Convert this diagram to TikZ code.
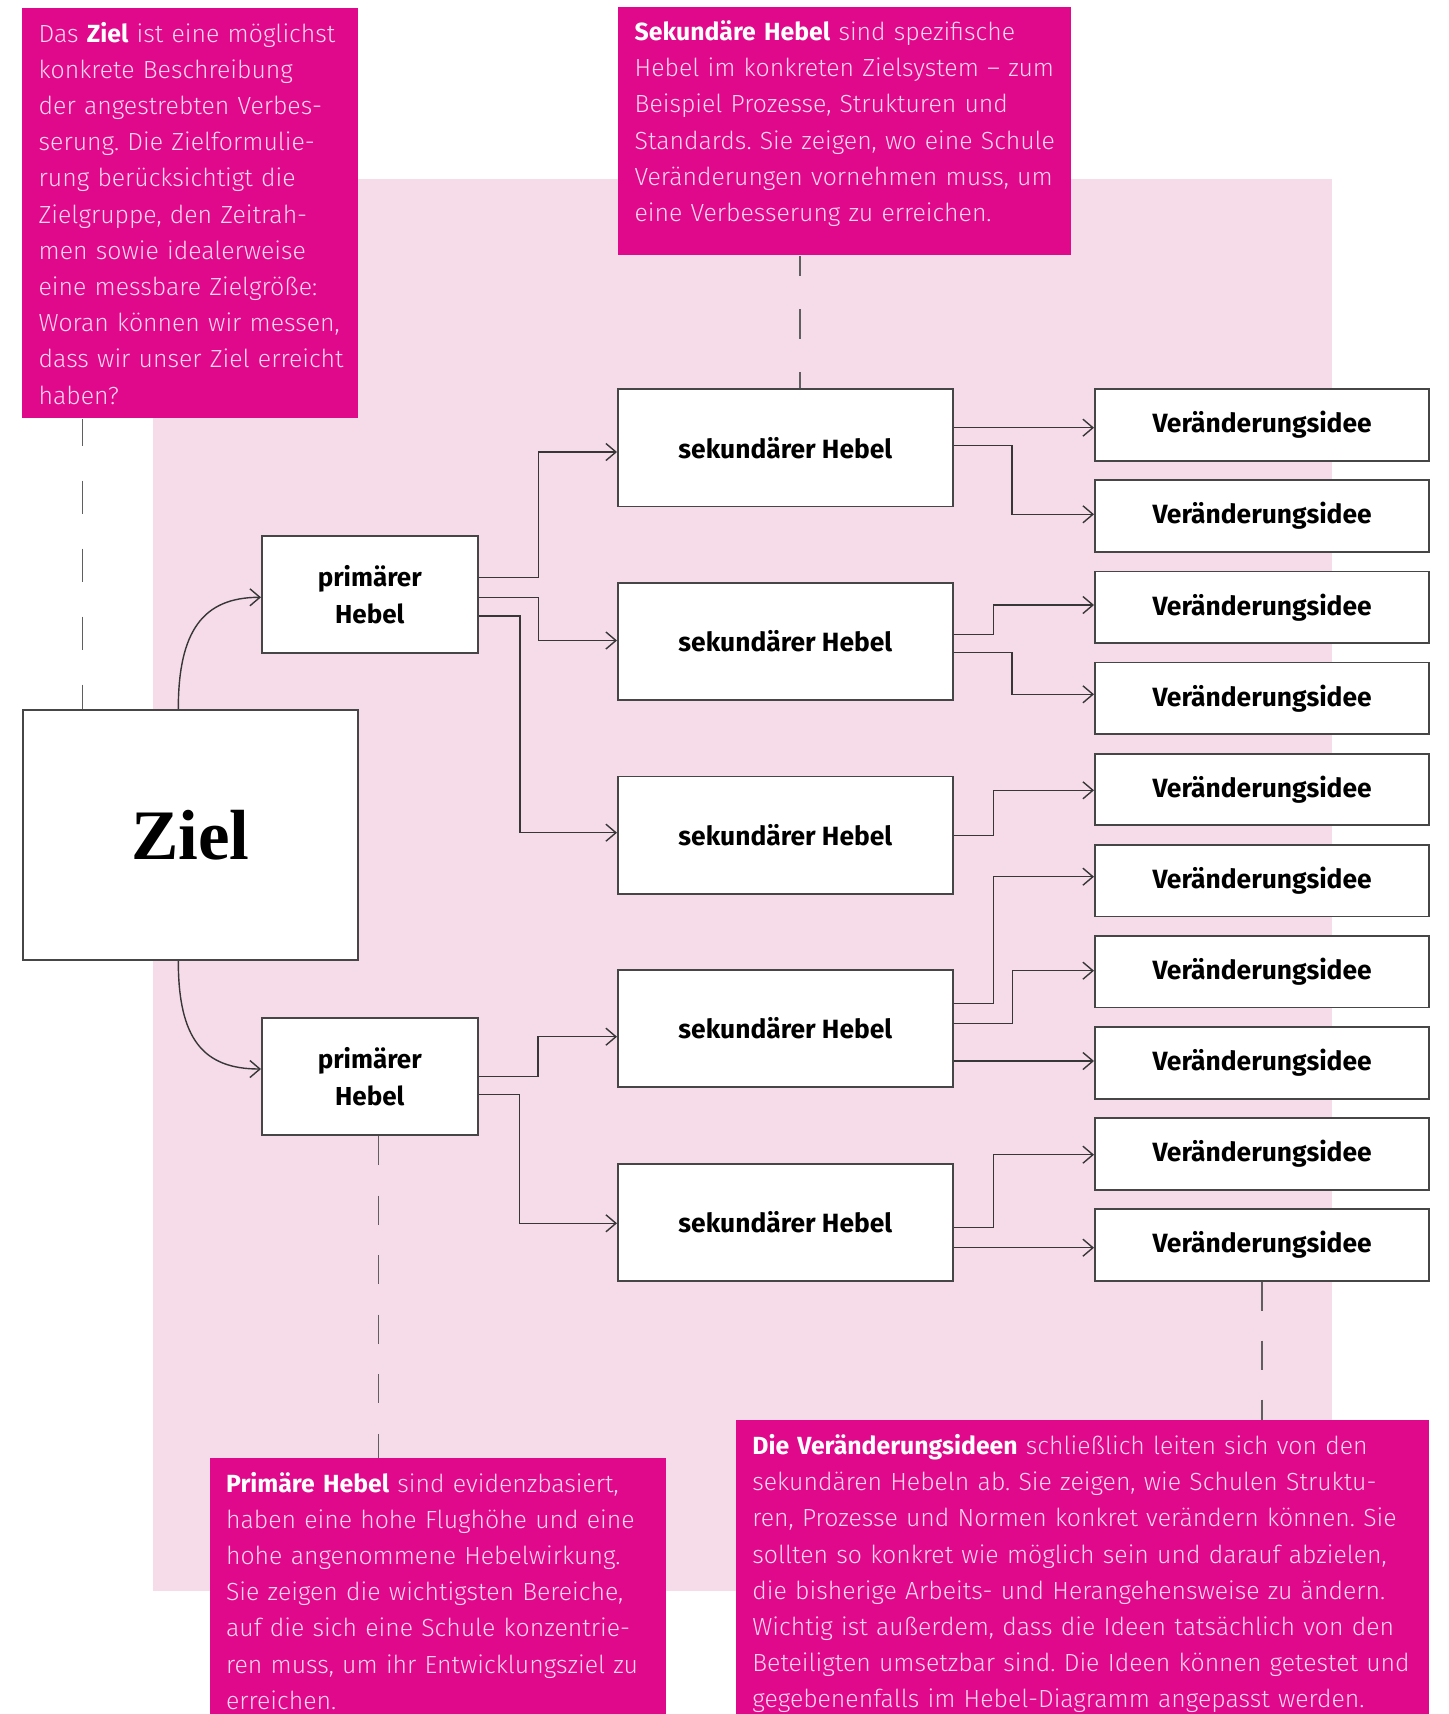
\documentclass[tikz,border=0pt]{standalone}
\usepackage{fontspec}
\usetikzlibrary{arrows.meta,calc}
\IfFontExistsTF{Fira Sans Light}{%
  \setmainfont{Fira Sans Light}[BoldFont={Fira Sans Bold}]}{%
  \setmainfont{Fira Sans}}
\newfontfamily\lblfont{Fira Sans}
\newfontfamily\zielfont{Liberation Serif}
\frenchspacing
\definecolor{mag}{RGB}{224,8,139}
\definecolor{bgpink}{RGB}{246,220,233}
\definecolor{txtpink}{RGB}{251,214,236}
\definecolor{linec}{RGB}{55,55,55}
\definecolor{boxc}{RGB}{70,70,70}
\definecolor{dashc}{RGB}{95,95,95}
\newcommand\hl[1]{\textcolor{white}{\bfseries #1}}
\tikzset{
  box/.style={draw=boxc, line width=0.9pt, fill=white, anchor=north west, inner sep=0pt, align=center},
  shbox/.style={box, minimum width=167.5pt, minimum height=58.65pt, font=\lblfont\bfseries\fontsize{13.2}{15}\selectfont},
  vibox/.style={box, minimum width=167.2pt, minimum height=35.85pt, font=\lblfont\bfseries\fontsize{13.2}{15}\selectfont},
  phbox/.style={box, minimum width=107.85pt, minimum height=58.7pt, font=\lblfont\bfseries\fontsize{13}{18.5}\selectfont},
  zielbox/.style={box, minimum width=167.5pt, minimum height=125pt, font=\zielfont\bfseries\fontsize{35.5}{40}\selectfont},
  infobox/.style={fill=mag, anchor=north west, inner sep=0pt},
  infotext/.style={anchor=north west, inner sep=0pt, text width=380pt, align=left, text=txtpink, font=\fontsize{12.4}{18.1}\selectfont},
  conn/.style={draw=linec, line width=0.7pt, -{Straight Barb[length=5pt,width=8.5pt]}},
  dashline/.style={draw=dashc, line width=0.75pt},
}
\begin{document}
\begin{tikzpicture}[x=0.5pt, y=-0.5pt]
\useasboundingbox (0,0) rectangle (1449,1714);
% pink background
\fill[bgpink] (153.3,179) rectangle (1332,1590.7);
% magenta info boxes
\node[infobox, minimum width=168pt, minimum height=205pt] (boxA) at (22,8) {};
\node[infobox, minimum width=226.5pt, minimum height=124pt] (boxB) at (618,7) {};
\node[infobox, minimum width=228.25pt, minimum height=150pt] (boxC) at (209.5,1458) {};
\node[infobox, minimum width=346.75pt, minimum height=160pt] (boxD) at (735.5,1420) {};
\node[infotext] (tA) at (38.3,16.4) {\strut Das \hl{Ziel} ist eine möglichst\\
konkrete Beschreibung\\
der angestrebten Verbes-\\
serung. Die Zielformulie-\\
rung berücksichtigt die\\
Zielgruppe, den Zeitrah-\\
men sowie idealerweise\\
eine messbare Zielgröße:\\
Woran können wir messen,\\
dass wir unser Ziel erreicht\\
haben?};
\node[infotext] (tB) at (634.3,14.7) {\strut\hl{Sekundäre Hebel} sind spezifische\\
Hebel im konkreten Zielsystem – zum\\
Beispiel Prozesse, Strukturen und\\
Standards. Sie zeigen, wo eine Schule\\
Veränderungen vornehmen muss, um\\
eine Verbesserung zu erreichen.};
\node[infotext] (tC) at (225.7,1466.4) {\strut\hl{Primäre Hebel} sind evidenzbasiert,\\
haben eine hohe Flughöhe und eine\\
hohe angenommene Hebelwirkung.\\
Sie zeigen die wichtigsten Bereiche,\\
auf die sich eine Schule konzentrie-\\
ren muss, um ihr Entwicklungsziel zu\\
erreichen.};
\node[infotext] (tD) at (752,1428.7) {\strut\hl{Die Veränderungsideen} schließlich leiten sich von den\\
sekundären Hebeln ab. Sie zeigen, wie Schulen Struktu-\\
ren, Prozesse und Normen konkret verändern können. Sie\\
sollten so konkret wie möglich sein und darauf abzielen,\\
die bisherige Arbeits- und Herangehensweise zu ändern.\\
Wichtig ist außerdem, dass die Ideen tatsächlich von den\\
Beteiligten umsetzbar sind. Die Ideen können getestet und\\
gegebenenfalls im Hebel-Diagramm angepasst werden.};
% diagram boxes
\node[zielbox] (ziel) at (22,709) {Ziel};
\node[phbox] (ph1) at (261,535) {primärer\\Hebel};
\node[phbox] (ph2) at (261,1016.7) {primärer\\Hebel};
\node[shbox] (sh1) at (617,388.3) {sekundärer Hebel};
\node[shbox] (sh2) at (617,581.9) {sekundärer Hebel};
\node[shbox] (sh3) at (617,775.5) {sekundärer Hebel};
\node[shbox] (sh4) at (617,969.1) {sekundärer Hebel};
\node[shbox] (sh5) at (617,1162.7) {sekundärer Hebel};
\node[vibox] (vi1) at (1094,388.3) {Veränderungsidee};
\node[vibox] (vi2) at (1094,479.4) {Veränderungsidee};
\node[vibox] (vi3) at (1094,570.5) {Veränderungsidee};
\node[vibox] (vi4) at (1094,661.6) {Veränderungsidee};
\node[vibox] (vi5) at (1094,752.7) {Veränderungsidee};
\node[vibox] (vi6) at (1094,843.8) {Veränderungsidee};
\node[vibox] (vi7) at (1094,934.9) {Veränderungsidee};
\node[vibox] (vi8) at (1094,1026) {Veränderungsidee};
\node[vibox] (vi9) at (1094,1117.1) {Veränderungsidee};
\node[vibox] (vi10) at (1094,1208.2) {Veränderungsidee};
% dashed leader lines
\draw[dashline, dash pattern=on 16.65pt off 17.35pt, dash phase=3.15pt] ($(boxA.south west)+(60.5,0)$) -- ($(ziel.north west)+(60.5,0)$);
\draw[dashline, dash pattern=on 15pt off 16.5pt, dash phase=5pt] ($(boxB.south west)+(182,0)$) -- ($(sh1.north west)+(183,0)$);
\draw[dashline, dash pattern=on 14.5pt off 15.3pt] ($(ph2.south west)+(117.3,0)$) -- ($(boxC.north west)+(168.8,0)$);
\draw[dashline, dash pattern=on 14.5pt off 15pt] ($(vi10.south west)+(168,0)$) -- ($(boxD.north west)+(526.5,0)$);
% Ziel -> primary levers
\draw[conn] ($(ziel.north west)+(156.3,0)$) .. controls +(0,-78) and +(-58,0) .. ($(ph1.north west)+(0,62.3)$);
\draw[conn] ($(ziel.south west)+(156.3,0)$) .. controls +(0,78) and +(-58,0) .. ($(ph2.north west)+(0,52.3)$);
% primary -> secondary
\draw[conn] ($(ph1.north east)+(0,42.3)$) -- ++(59.8,0) |- ($(sh1.north west)+(0,63.7)$);
\draw[conn] ($(ph1.north east)+(0,62.3)$) -- ++(59.8,0) |- ($(sh2.north west)+(0,58.6)$);
\draw[conn] ($(ph1.north east)+(0,81)$) -- ++(41.3,0) |- ($(sh3.north west)+(0,57.2)$);
\draw[conn] ($(ph2.north east)+(0,59.6)$) -- ++(59.6,0) |- ($(sh4.north west)+(0,67.6)$);
\draw[conn] ($(ph2.north east)+(0,77.6)$) -- ++(41,0) |- ($(sh5.north west)+(0,60.6)$);
% secondary -> change ideas
\draw[conn] ($(sh1.north east)+(0,39.4)$) -- ($(vi1.north west)+(0,39.4)$);
\draw[conn] ($(sh1.north east)+(0,57.4)$) -- ++(58,0) |- ($(vi2.north west)+(0,34.9)$);
\draw[conn] ($(sh2.north east)+(0,52.4)$) -- ++(39.5,0) |- ($(vi3.north west)+(0,34.5)$);
\draw[conn] ($(sh2.north east)+(0,70.4)$) -- ++(58,0) |- ($(vi4.north west)+(0,32.7)$);
\draw[conn] ($(sh3.north east)+(0,59.8)$) -- ++(39.5,0) |- ($(vi5.north west)+(0,37.6)$);
\draw[conn] ($(sh4.north east)+(0,34.6)$) -- ++(39.5,0) |- ($(vi6.north west)+(0,32.9)$);
\draw[conn] ($(sh4.north east)+(0,54.2)$) -- ++(58.7,0) |- ($(vi7.north west)+(0,35.8)$);
\draw[conn] ($(sh4.north east)+(0,91.9)$) -- ($(vi8.north west)+(0,35)$);
\draw[conn] ($(sh5.north east)+(0,64.6)$) -- ++(39.5,0) |- ($(vi9.north west)+(0,37.6)$);
\draw[conn] ($(sh5.north east)+(0,85)$) -- ($(vi10.north west)+(0,39.5)$);
\end{tikzpicture}
\end{document}
